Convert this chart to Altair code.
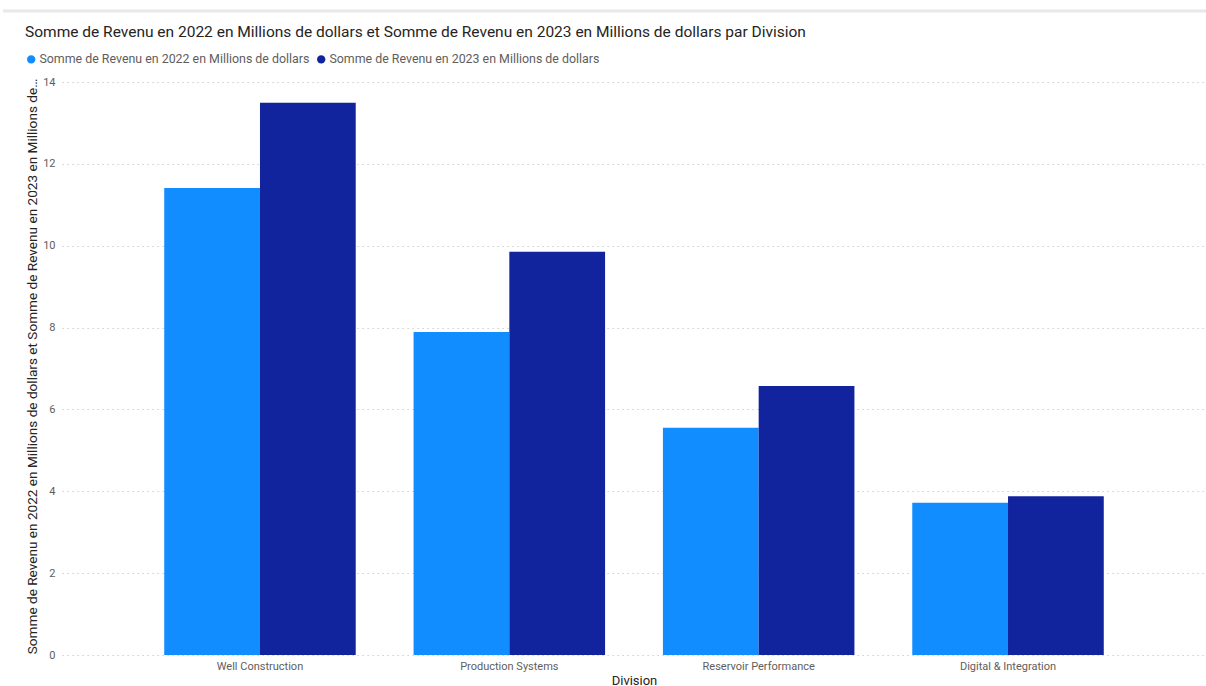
import altair as alt
import pandas as pd

divisions = ["Well Construction", "Production Systems", "Reservoir Performance", "Digital & Integration"]
rev_2022 = [11.41, 7.89, 5.55, 3.72]
rev_2023 = [13.49, 9.85, 6.57, 3.88]
series_names = [
    "Somme de Revenu en 2022 en Millions de dollars",
    "Somme de Revenu en 2023 en Millions de dollars",
]
colors = ["#118DFF", "#12239E"]
y_ticks = [0, 2, 4, 6, 8, 10, 12, 14]

rows = []
for d, a, b in zip(divisions, rev_2022, rev_2023):
    rows.append({"Division": d, "Serie": series_names[0], "Valeur": a})
    rows.append({"Division": d, "Serie": series_names[1], "Valeur": b})
df = pd.DataFrame(rows)

FONT = "Roboto"
title_text = ("Somme de Revenu en 2022 en Millions de dollars et Somme de Revenu en 2023 "
              "en Millions de dollars par Division")
y_title = ("Somme de Revenu en 2022 en Millions de dollars et Somme de Revenu en 2023 "
           "en Millions de dollars")

bars = alt.Chart(df).mark_bar().encode(
    x=alt.X("Division:N", sort=divisions,
            scale=alt.Scale(paddingInner=0.232, paddingOuter=0.41),
            axis=alt.Axis(title="Division", labelAngle=0, domain=False, ticks=False,
                          grid=False, labelFont=FONT, labelFontSize=11,
                          labelColor="#605E5C", labelPadding=5,
                          titleFont=FONT, titleFontSize=13, titleFontWeight="normal",
                          titleColor="#252423", titlePadding=3)),
    xOffset=alt.XOffset("Serie:N", sort=series_names,
                        scale=alt.Scale(paddingInner=0, paddingOuter=0)),
    y=alt.Y("Valeur:Q", scale=alt.Scale(domain=[0, 14], nice=False),
            axis=alt.Axis(values=y_ticks, title=y_title, domain=False, ticks=False,
                          grid=True, gridColor="#C4C4C4", gridDash=[1.2, 3.8], gridWidth=1.2,
                          labelFont=FONT, labelFontSize=11, labelColor="#605E5C",
                          labelPadding=7,
                          titleFont=FONT, titleFontSize=13.6, titleFontWeight="normal",
                          titleColor="#252423", titleLimit=578,
                          titleX=-30, titleY=284, titleAngle=-90,
                          titleAlign="center", titleBaseline="middle")),
    color=alt.Color("Serie:N",
                    scale=alt.Scale(domain=series_names, range=colors),
                    legend=alt.Legend(orient="none", legendX=-37, legendY=-29,
                                      direction="horizontal", title=None,
                                      symbolType="circle", symbolSize=70,
                                      symbolStrokeWidth=0,
                                      labelFont=FONT, labelFontSize=12.4,
                                      labelColor="#605E5C", labelOffset=2,
                                      columnPadding=5, labelLimit=400)),
)

# faint card-border shadow at the top of the visual
shadow = alt.Chart(pd.DataFrame({"k": [0]})).mark_rule(color="#E8E8E8", strokeWidth=3).encode(
    x=alt.value(-59), x2=alt.value(1144), y=alt.value(-71)
)

chart = alt.layer(shadow, bars).properties(
    width=1144,
    height=573,
    autosize=alt.AutoSizeParams(type="none"),
    padding={"left": 62, "top": 82, "right": 0, "bottom": 31},
    title=alt.Title(title_text, anchor="start", frame="group", dx=-37, offset=0, dy=31,
                    font=FONT, fontSize=15.5, fontWeight="normal", color="#252423"),
).configure(background="white").configure_view(stroke=None, strokeWidth=0)

chart.save("out.html", embed_options={"renderer": "svg", "actions": False})
